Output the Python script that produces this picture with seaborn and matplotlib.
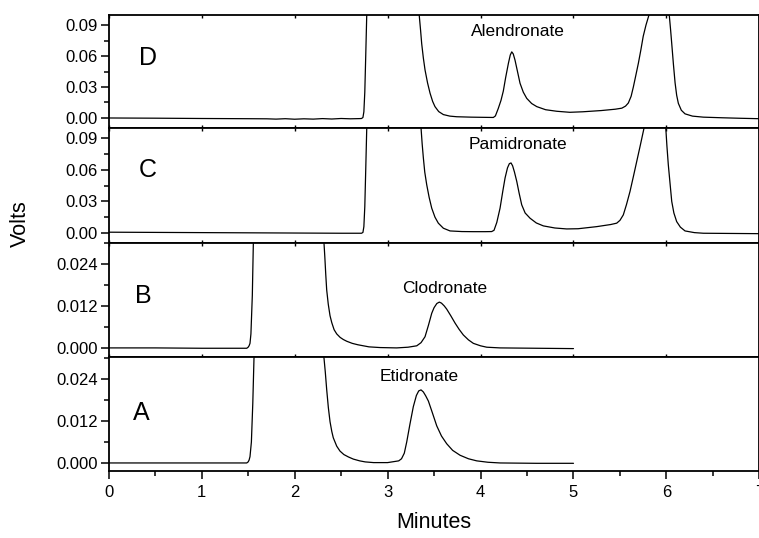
import numpy as np
import pandas as pd
import matplotlib
matplotlib.use("Agg")
import matplotlib.pyplot as plt
from matplotlib.ticker import MultipleLocator, FixedLocator, FormatStrFormatter
import seaborn as sns

# ---------------- data ----------------
panel_letters = ["D", "C", "B", "A"]
compound_names = ["Alendronate", "Pamidronate", "Clodronate", "Etidronate"]

d_time = [0, 0.5, 1.0, 1.5, 1.7, 1.8, 1.9, 2.0, 2.1, 2.2, 2.3, 2.4, 2.5, 2.6, 2.7, 2.72,
          2.735, 2.745, 2.755, 2.765, 2.776, 3.05, 3.34, 3.355, 3.367, 3.385, 3.403, 3.43,
          3.457, 3.485, 3.51, 3.55, 3.60, 3.67, 3.744, 3.9, 4.05, 4.138, 4.16, 4.19, 4.22,
          4.245, 4.27, 4.30, 4.32, 4.336, 4.352, 4.371, 4.40, 4.425, 4.46, 4.497, 4.55,
          4.605, 4.7, 4.82, 4.96, 5.1, 5.3, 5.45, 5.52, 5.56, 5.59, 5.62, 5.644, 5.67,
          5.698, 5.725, 5.75, 5.78, 5.813, 5.92, 6.03, 6.045, 6.057, 6.075, 6.093, 6.11,
          6.128, 6.16, 6.20, 6.28, 6.397, 6.6, 6.8, 7.0]
d_volts = [0.0, -0.0002, -0.0005, -0.0007, -0.0008, -0.0011, -0.0007, -0.0012, -0.0008,
           -0.0011, -0.0006, -0.0010, -0.0005, -0.0008, -0.0006, -0.0005,
           0.0005, 0.006, 0.025, 0.060, 0.100, 0.400, 0.100, 0.085, 0.072, 0.058, 0.0465,
           0.034, 0.024, 0.016, 0.011, 0.0062, 0.0033, 0.0018, 0.0012, 0.0008, 0.0006,
           0.0005, 0.002, 0.009, 0.017, 0.026, 0.039, 0.053, 0.061, 0.064, 0.062, 0.056,
           0.044, 0.0336, 0.025, 0.019, 0.0140, 0.0110, 0.0080, 0.0065, 0.0055, 0.0060,
           0.0072, 0.0085, 0.0095, 0.0115, 0.0145, 0.021, 0.030, 0.041, 0.053, 0.066,
           0.079, 0.090, 0.100, 0.400, 0.100, 0.085, 0.072, 0.052, 0.034, 0.022, 0.0142,
           0.0075, 0.0040, 0.0018, 0.0008, 0.0002, -0.0003, -0.0007]

c_time = [0, 0.5, 1.0, 1.5, 2.0, 2.5, 2.72, 2.735, 2.745, 2.755, 2.765, 2.776, 3.05, 3.36,
          3.372, 3.385, 3.40, 3.421, 3.447, 3.475, 3.51, 3.546, 3.60, 3.672, 3.8, 3.923,
          4.05, 4.12, 4.145, 4.175, 4.21, 4.24, 4.264, 4.29, 4.31, 4.328, 4.345, 4.365,
          4.39, 4.415, 4.443, 4.48, 4.533, 4.6, 4.676, 4.8, 4.927, 5.05, 5.25, 5.4, 5.465,
          5.50, 5.536, 5.57, 5.608, 5.645, 5.68, 5.72, 5.759, 5.88, 5.993, 6.005, 6.02,
          6.04, 6.057, 6.08, 6.11, 6.15, 6.20, 6.3, 6.397, 6.7, 7.0]
c_volts = [0.0007, 0.0005, 0.0003, 0.0001, -0.0001, -0.0003, -0.0003, 0.0005, 0.006, 0.025,
           0.060, 0.100, 0.400, 0.100, 0.085, 0.0715, 0.058, 0.046, 0.034, 0.0236, 0.015,
           0.0093, 0.0045, 0.0019, 0.0013, 0.0012, 0.0012, 0.0013, 0.0025, 0.010, 0.0236,
           0.040, 0.0524, 0.062, 0.066, 0.0667, 0.064, 0.058, 0.049, 0.038, 0.0268, 0.019,
           0.014, 0.0095, 0.0067, 0.0047, 0.0038, 0.0040, 0.0060, 0.0080, 0.0093, 0.0120,
           0.0172, 0.027, 0.0395, 0.054, 0.068, 0.084, 0.100, 0.400, 0.100, 0.083, 0.065,
           0.046, 0.030, 0.019, 0.0108, 0.0055, 0.0019, 0.0003, -0.0003, -0.0005, -0.0007]

b_time = [0, 0.5, 1.0, 1.45, 1.485, 1.50, 1.51, 1.52, 1.53, 1.545, 1.556, 1.9, 2.316, 2.325,
          2.335, 2.345, 2.362, 2.381, 2.40, 2.425, 2.453, 2.49, 2.524, 2.561, 2.62, 2.68,
          2.74, 2.80, 2.92, 3.098, 3.22, 3.314, 3.36, 3.403, 3.44, 3.475, 3.50, 3.53, 3.557,
          3.58, 3.61, 3.636, 3.68, 3.726, 3.77, 3.815, 3.87, 3.923, 4.0, 4.067, 4.21, 4.6, 5.0]
b_volts = [0.0, 0.0, -0.0001, -0.0001, -0.0001, 0.0002, 0.0006, 0.0013, 0.004, 0.015, 0.030,
           0.080, 0.030, 0.026, 0.021, 0.0166, 0.0125, 0.0092, 0.0072, 0.0052, 0.0040,
           0.0030, 0.0024, 0.0019, 0.0013, 0.0009, 0.0006, 0.0003, 0.0001, 0.0, 0.0002,
           0.0006, 0.0015, 0.0032, 0.0065, 0.0099, 0.0115, 0.0127, 0.0131, 0.0128, 0.0120,
           0.0111, 0.0092, 0.0071, 0.0053, 0.0037, 0.0023, 0.0013, 0.0006, 0.0002, 0.0,
           -0.0001, -0.0002]

a_time = [0, 0.5, 1.0, 1.485, 1.50, 1.51, 1.52, 1.535, 1.55, 1.563, 1.9, 2.316, 2.33, 2.345,
          2.363, 2.381, 2.40, 2.416, 2.453, 2.488, 2.53, 2.58, 2.632, 2.70, 2.76, 2.85, 3.0,
          3.12, 3.15, 3.18, 3.206, 3.24, 3.277, 3.31, 3.335, 3.36, 3.385, 3.41, 3.439, 3.48,
          3.529, 3.58, 3.636, 3.70, 3.78, 3.87, 3.959, 4.08, 4.21, 4.6, 5.0]
a_volts = [0.0, 0.0, 0.0, 0.0, 0.0003, 0.0008, 0.0018, 0.006, 0.017, 0.030, 0.080, 0.030,
           0.026, 0.021, 0.0158, 0.0118, 0.0090, 0.0072, 0.0048, 0.0034, 0.0024, 0.0017,
           0.0011, 0.0006, 0.0003, 0.0001, 0.0001, 0.0006, 0.0012, 0.0028, 0.0060, 0.0110,
           0.0161, 0.0193, 0.0206, 0.0209, 0.0203, 0.0192, 0.0177, 0.0145, 0.0106, 0.0077,
           0.0055, 0.0036, 0.0022, 0.0012, 0.0006, 0.0002, 0.0, -0.0001, -0.0001]

big_ticks = [0.00, 0.03, 0.06, 0.09]
small_ticks = [0.000, 0.012, 0.024]
x_ticks = [0, 1, 2, 3, 4, 5, 6, 7]

# ---------------- plot ----------------
sns.set_style("ticks")
plt.rcParams["font.family"] = ["Liberation Sans", "DejaVu Sans"]
plt.rcParams["text.color"] = "black"
plt.rcParams["axes.labelcolor"] = "black"
plt.rcParams["xtick.color"] = "black"
plt.rcParams["ytick.color"] = "black"

fig = plt.figure(figsize=(7.59, 5.38), dpi=100)

W, H = 759.0, 538.0
left = 108.7 / W
right = 759.4 / W
bounds_px = [(15, 128), (128, 243), (243, 357), (357, 471)]

series = [(d_time, d_volts), (c_time, c_volts), (b_time, b_volts), (a_time, a_volts)]
ylims = [(-0.0097, 0.0997), (-0.0096, 0.1), (-0.0026, 0.0300), (-0.0023, 0.0303)]
letter_pos = [(0.42, 0.058), (0.42, 0.060), (0.37, 0.0149), (0.35, 0.0143)]
name_pos = [(4.40, 0.0833), (4.40, 0.0842), (3.61, 0.0169), (3.34, 0.0246)]

axes = []
for i, ((top, bot), (tt, vv)) in enumerate(zip(bounds_px, series)):
    ax = fig.add_axes([left, 1 - bot / H, right - left, (bot - top) / H])
    df = pd.DataFrame({"Minutes": tt, "Volts": vv})
    sns.lineplot(data=df, x="Minutes", y="Volts", ax=ax, color="black",
                 linewidth=0.9, estimator=None, sort=False)
    ax.set_xlim(0, 7)
    ax.set_ylim(*ylims[i])
    ax.set_xlabel("")
    ax.set_ylabel("")
    if i < 2:
        ax.yaxis.set_major_locator(FixedLocator(big_ticks))
        ax.yaxis.set_minor_locator(MultipleLocator(0.015))
        ax.yaxis.set_major_formatter(FormatStrFormatter("%.2f"))
    else:
        ax.yaxis.set_major_locator(FixedLocator(small_ticks))
        ax.yaxis.set_minor_locator(MultipleLocator(0.006))
        ax.yaxis.set_major_formatter(FormatStrFormatter("%.3f"))
    ax.xaxis.set_major_locator(FixedLocator(x_ticks))
    ax.xaxis.set_minor_locator(MultipleLocator(0.5))
    for s in ax.spines.values():
        s.set_linewidth(1.3)
        s.set_color("black")
        s.set_visible(True)
    ax.tick_params(axis="y", which="major", direction="out", length=6, width=1.1,
                   labelsize=12, pad=2, colors="black")
    ax.tick_params(axis="y", which="minor", direction="out", length=3.5, width=1.1,
                   colors="black")
    if i == 3:
        ax.tick_params(axis="x", which="major", direction="out", length=6, width=1.1,
                       labelsize=12, pad=4, top=False, colors="black")
        ax.tick_params(axis="x", which="minor", direction="out", length=3.5, width=1.1,
                       top=False, colors="black")
    else:
        ax.tick_params(axis="x", which="major", direction="in", length=2, width=1.0,
                       labelbottom=False, top=True, colors="black")
        ax.tick_params(axis="x", which="minor", length=0)
    lx, ly = letter_pos[i]
    ax.text(lx, ly, panel_letters[i], fontsize=18, ha="center", va="center")
    nx, ny = name_pos[i]
    ax.text(nx, ny, compound_names[i], fontsize=12.5, ha="center", va="center")
    axes.append(ax)

fig.text(20 / W, 1 - 224 / H, "Volts", rotation=90, fontsize=15.5, ha="center", va="center")
fig.text(434 / W, 1 - 523 / H, "Minutes", fontsize=15.5, ha="center", va="center")

fig.savefig("out.png", dpi=100)
